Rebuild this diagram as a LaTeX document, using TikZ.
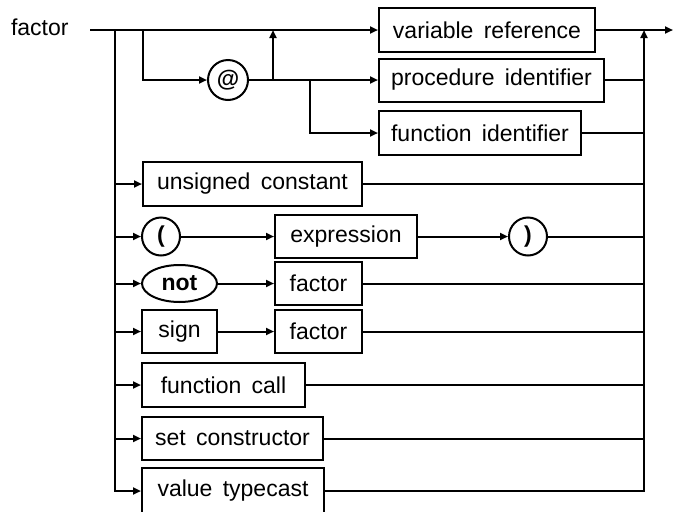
\documentclass[tikz,border=0pt]{standalone}
\usepackage{fontspec}
\setmainfont{Liberation Sans}
\usetikzlibrary{arrows.meta,shapes.geometric}
\newcommand\wgap{\hspace{0.45em}}
\begin{document}
\begin{tikzpicture}[x=1pt,y=-1pt,line width=2pt,
  lbl/.style={font=\fontsize{23}{26}\selectfont},
  box/.style={draw,rectangle,inner sep=0pt,lbl},
  circ/.style={draw,circle,inner sep=0pt,minimum size=38pt,lbl},
  oval/.style={draw,ellipse,inner sep=0pt,lbl},
  arr/.style={-{Triangle[length=8pt,width=7pt]}}]
\useasboundingbox (0,0) rectangle (673,512);
\clip (0,0) rectangle (673,512);
% label
\node[lbl,anchor=base west,inner sep=0pt] (title) at (10,35) {factor};
% coordinates
\coordinate (start) at (90,30);
\coordinate (L0) at (115,30);
\coordinate (A0) at (143,30);
\coordinate (upb) at (273,80);
\coordinate (upt) at (273,30);
\coordinate (fb) at (310,80);
\coordinate (R0) at (644,30);
\coordinate (exit) at (673,30);
% nodes
\node[box,minimum width=216pt,minimum height=44pt] (vr) at (487,30) {variable\wgap reference};
\node[box,minimum width=225pt,minimum height=43pt] (pi) at (491.5,80) {procedure\wgap identifier};
\node[box,minimum width=202pt,minimum height=44pt] (fi) at (480,133) {function\wgap identifier};
\node[circ,minimum size=40pt] (at) at (228,80) {\textbf{@}};
\node[box,minimum width=219pt,minimum height=44pt] (uc) at (252.5,184) {unsigned\wgap constant};
\node[circ] (lp) at (161,236.5) {\textbf{(}};
\node[box,minimum width=142pt,minimum height=43pt] (ex) at (346,236.5) {expression};
\node[circ] (rp) at (528,236.5) {\textbf{)}};
\node[oval,minimum width=75pt,minimum height=37pt] (nt) at (179.5,283.5) {\textbf{not}};
\node[box,minimum width=87pt,minimum height=43pt] (f1) at (318.5,283.5) {factor};
\node[box,minimum width=75pt,minimum height=43pt] (sg) at (179.5,331.5) {sign};
\node[box,minimum width=87pt,minimum height=43pt] (f2) at (318.5,331.5) {factor};
\node[box,minimum width=163pt,minimum height=44pt] (fc) at (223.5,385) {function\wgap call};
\node[box,minimum width=181pt,minimum height=43pt] (sc) at (232.5,438.5) {set\wgap constructor};
\node[box,minimum width=182pt,minimum height=46pt] (vt) at (233,491) {value\wgap typecast};
% main line
\draw[arr] (start) -- (vr.west);
\draw[arr] (vr.east) -- (exit);
% @ branch
\draw[arr] (A0) |- (at.west);
\draw[arr] (at.east) -- (pi.west);
\draw[arr] (upb) -- (upt);
\draw[arr] (fb) |- (fi.west);
\draw (pi.east) -- (R0 |- pi.east);
\draw (fi.east) -- (R0 |- fi.east);
% left bus
\draw[arr] (L0) |- (vt.west);
\draw[arr] (L0 |- uc.west) -- (uc.west);
\draw[arr] (L0 |- lp.west) -- (lp.west);
\draw[arr] (L0 |- nt.west) -- (nt.west);
\draw[arr] (L0 |- sg.west) -- (sg.west);
\draw[arr] (L0 |- fc.west) -- (fc.west);
\draw[arr] (L0 |- sc.west) -- (sc.west);
% inner connections
\draw[arr] (lp.east) -- (ex.west);
\draw[arr] (ex.east) -- (rp.west);
\draw[arr] (nt.east) -- (f1.west);
\draw[arr] (sg.east) -- (f2.west);
% right bus
\draw[arr] (vt.east) -| (R0);
\draw (uc.east) -- (R0 |- uc.east);
\draw (rp.east) -- (R0 |- rp.east);
\draw (f1.east) -- (R0 |- f1.east);
\draw (f2.east) -- (R0 |- f2.east);
\draw (fc.east) -- (R0 |- fc.east);
\draw (sc.east) -- (R0 |- sc.east);
\end{tikzpicture}
\end{document}
